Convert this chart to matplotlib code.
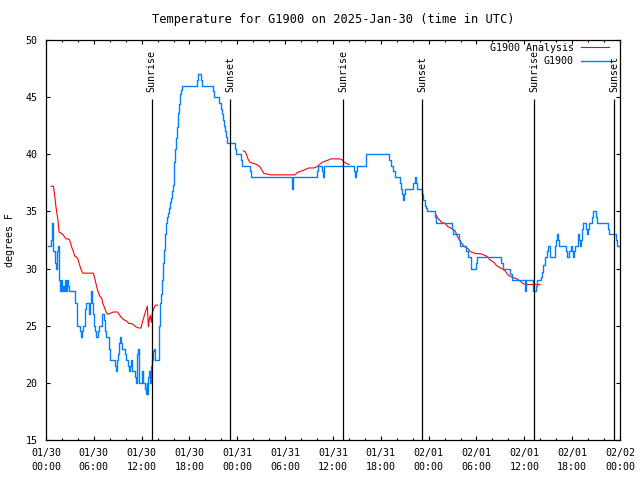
import numpy as np
import pandas as pd
import matplotlib
matplotlib.use('Agg')
import matplotlib.pyplot as plt
import matplotlib.dates as mdates

plt.rcParams['font.family'] = 'DejaVu Sans Mono'
plt.rcParams['font.size'] = 7.2

start = pd.Timestamp('2025-01-30 00:00')
end = pd.Timestamp('2025-02-02 00:00')

# observed temperature (hours since start, deg F), held until next change
obs_hours = [0.25, 0.63, 0.75, 0.79, 0.88, 1.13, 1.25, 1.38, 1.51, 1.63, 1.76, 1.88, 2.01, 2.13, 2.26, 2.43, 2.55, 2.68, 2.80, 2.89,
             3.60, 3.85, 3.95, 4.31, 4.43, 4.56, 4.68, 4.94, 5.02, 5.44, 5.52, 5.65, 5.73, 5.81, 5.94,
             6.02, 6.15, 6.27, 6.57, 6.69, 6.99, 7.07, 7.32, 7.45, 7.53, 7.95, 8.03, 8.66, 8.74, 8.87, 8.95,
             9.08, 9.16, 9.29, 9.37, 9.50, 9.91, 10.00, 10.33, 10.46, 10.54, 10.62, 10.75, 10.79, 11.17, 11.29,
             11.38, 11.46, 11.55, 11.63, 11.71, 12.00, 12.13, 12.22, 12.38, 12.51, 12.63, 12.72, 12.84, 12.97, 13.05,
             13.17, 13.30, 13.38, 13.47, 13.55, 13.63, 13.68, 14.14, 14.22, 14.30, 14.39, 14.51, 14.64, 14.76, 14.89,
             15.01, 15.14, 15.27, 15.39, 15.52, 15.64, 15.77, 15.89, 16.00, 16.10, 16.19, 16.31, 16.44, 16.56, 16.69, 16.81, 16.94, 17.06,
             18.95, 19.03, 19.45, 19.57, 20.90, 21.10, 21.75, 21.92, 22.04, 22.17, 22.29, 22.42, 22.54, 22.67,
             23.71, 23.84, 24.42, 24.59, 25.59, 25.72, 30.82, 30.95, 34.04, 34.17, 34.59, 34.71, 34.88, 38.64, 38.77, 38.90, 38.98, 40.11, 40.19,
             43.08, 43.33, 43.58, 43.79, 44.42, 44.54, 44.67, 44.79, 44.92, 45.05, 46.09, 46.30, 46.45, 46.55,
             47.18, 47.34, 47.55, 47.68, 47.85, 48.85, 48.93, 50.90, 51.03, 51.82, 51.95, 52.70, 52.91, 53.28, 53.37, 53.95, 54.08,
             57.13, 57.38, 58.25, 58.43, 60.14, 60.27, 61.10, 61.48, 61.60, 62.10, 62.27, 62.40, 62.53, 62.65, 62.82, 62.99, 63.16, 63.28,
             63.82, 63.99, 64.12, 64.24, 64.37, 65.20, 65.37, 65.65, 65.83, 65.95, 66.08, 66.20, 66.33, 66.67, 66.79, 66.88, 67.00, 67.13, 67.25, 67.38,
             67.75, 67.88, 68.00, 68.13, 68.50, 68.63, 69.00, 69.13, 70.50, 70.68, 71.45, 71.65, 72.00]
obs_temp = [32, 32.5, 33.5, 34, 31.5, 30.5, 30, 31.5, 32, 29, 28, 29, 28, 28.5, 28, 29, 28, 29, 28.5, 28,
            27, 26, 25, 24.5, 24, 24.5, 25, 26.5, 27, 26, 27, 28, 27.5, 27, 26,
            25, 24.5, 24, 24.5, 25, 25.5, 26, 25.5, 24.5, 24, 23, 22, 21.5, 21, 21.5, 22,
            22.5, 23.5, 24, 23.5, 23, 22.5, 22, 21.5, 21, 21.5, 22, 21.5, 21, 20.5, 20,
            21, 22.5, 23, 21.5, 20, 21, 20.5, 20, 19.5, 19, 20, 19, 20.5, 21, 20,
            21.5, 22, 22.5, 22.8, 23, 22.5, 22, 23, 25, 27, 27.8, 29, 30.5, 31.6, 33,
            34, 34.5, 34.9, 35.3, 35.8, 36.2, 36.8, 37.3, 38.2, 39.3, 40.5, 41.4, 42.4, 43.6, 44.4, 45.3, 45.6, 46,
            46.5, 47, 46.5, 46, 45.5, 45, 44.5, 44, 43.5, 43, 42.5, 42, 41.5, 41,
            40.5, 40, 39.5, 39, 38.5, 38, 37, 38, 38.5, 39, 38.5, 38, 39, 38.5, 38, 38.5, 39, 39.5, 40,
            39.5, 39, 38.5, 38, 37.5, 37, 36.5, 36, 36.5, 37, 37.5, 38, 37.5, 37,
            36.5, 36, 35.5, 35.3, 35, 34.5, 34, 33.5, 33, 32.5, 32, 31.5, 31, 30.5, 30, 30.5, 31,
            30.5, 30, 29.5, 29, 28, 29, 28, 28.5, 29, 29.3, 29.7, 30.3, 30.6, 31, 31.5, 32, 31.5, 31,
            32, 32.5, 33, 32.5, 32, 31.5, 31, 31.5, 32, 31.5, 31, 31.5, 32, 32.5, 33, 32.5, 32, 32.5, 33.5, 34,
            33.5, 33, 33.5, 34, 34.5, 35, 34.5, 34, 33.5, 33, 32.5, 32, 32]

# analysis temperature, nan marks the gaps
ana_hours = [0.63, 0.92, 1.00, 1.13, 1.25, 1.38, 1.51, 1.63, 1.88, 2.09, 2.30, 2.51, 2.76, 2.97, 3.10, 3.26, 3.43, 3.60, 3.85, 4.02,
             4.19, 4.35, 4.60, 5.94, 6.06, 6.23, 6.40, 6.57, 6.73, 6.99, 7.11, 7.28, 7.45, 7.61, 7.82, 8.11, 8.45, 8.78, 8.99,
             9.16, 9.37, 9.62, 9.83, 10.12, 10.37, 10.62, 10.96, 11.29, 11.63, 11.92, 12.05, 12.21, 12.38, 12.55, 12.72,
             12.84, 12.97, 13.09, 13.22, 13.34, 13.47, 13.64, 13.80, 14.01, 14.01,
             24.76, 25.01, 25.18, 25.39, 25.59, 26.01, 26.43, 26.85, 27.10, 27.35, 27.60, 28.10, 31.03, 31.24, 31.53, 31.87,
             32.29, 32.62, 32.92, 33.54, 33.96, 34.30, 34.63, 35.01, 35.43, 35.72, 36.89, 37.18, 37.39, 37.72, 38.02, 38.02,
             48.93, 49.10, 49.27, 49.44, 49.69, 49.94, 50.15, 50.36, 50.61, 50.90, 51.11, 51.32, 51.44, 51.61, 51.78, 51.95,
             52.16, 52.36, 52.57, 52.78, 52.99, 53.20, 53.53, 54.03, 54.45, 54.87, 55.21, 55.42, 55.63, 55.84, 56.05, 56.25,
             56.46, 56.67, 56.88, 57.17, 57.38, 57.59, 57.80, 58.00, 58.30, 58.64, 59.06, 59.27, 59.47, 59.81, 60.10, 60.52,
             61.14, 61.98]
ana_temp = [37.2, 37.2, 36.9, 36.1, 35.4, 34.8, 34.2, 33.2, 33.1, 33.0, 32.8, 32.6, 32.6, 32.5, 32.2, 31.8, 31.5, 31.1, 31.0, 30.8,
            30.4, 30.0, 29.6, 29.6, 29.3, 28.8, 28.3, 27.9, 27.6, 27.4, 27.0, 26.7, 26.4, 26.1, 26.0, 26.1, 26.2, 26.2, 26.2,
            26.0, 25.8, 25.6, 25.5, 25.4, 25.2, 25.2, 25.1, 24.9, 24.8, 24.8, 25.2, 25.6, 26.0, 26.4, 26.7,
            24.9, 25.6, 25.9, 25.3, 26.1, 26.4, 26.7, 26.8, 26.8, np.nan,
            40.3, 40.2, 39.9, 39.5, 39.3, 39.2, 39.1, 38.9, 38.6, 38.3, 38.3, 38.2, 38.2, 38.2, 38.4, 38.5,
            38.6, 38.7, 38.8, 38.8, 38.9, 39.1, 39.3, 39.4, 39.5, 39.6, 39.6, 39.5, 39.3, 39.2, 39.1, np.nan,
            34.7, 34.5, 34.3, 34.2, 34.0, 34.0, 33.9, 33.7, 33.6, 33.5, 33.4, 33.3, 33.1, 32.8, 32.6, 32.4,
            32.2, 32.0, 31.9, 31.8, 31.7, 31.5, 31.4, 31.3, 31.3, 31.2, 31.1, 31.0, 30.8, 30.7, 30.6, 30.5,
            30.3, 30.2, 30.1, 30.0, 29.9, 29.8, 29.6, 29.4, 29.3, 29.2, 29.1, 29.0, 28.9, 28.7, 28.6, 28.6,
            28.6, 28.6]

sun_names = ['Sunrise', 'Sunset', 'Sunrise', 'Sunset', 'Sunrise', 'Sunset']
sun_hours = [13.25, 23.13, 37.31, 47.22, 61.27, 71.30]


def to_time(hours):
    return start + pd.to_timedelta(np.asarray(hours, dtype=float), unit='h')


fig = plt.figure(figsize=(6.4, 4.8), dpi=100)
ax = fig.add_axes([46 / 640, 40 / 480, 574 / 640, 400 / 480])

ax.plot(to_time(ana_hours), ana_temp, color='#ff0000', lw=0.8, label='G1900 Analysis')
ax.plot(to_time(obs_hours), obs_temp, color='#0080ff', lw=1.0, drawstyle='steps-post', label='G1900')

for name, t in zip(sun_names, to_time(sun_hours)):
    ax.vlines(t, 15, 44.8, color='black', lw=0.9, zorder=3)
    ax.text(t, 45.45, name, rotation=90, ha='center', va='bottom', zorder=3)

ax.set_xlim(start, end)
ax.set_ylim(15, 50)
ax.set_yticks(np.arange(15, 51, 5))
ax.xaxis.set_major_locator(mdates.HourLocator(byhour=range(0, 24, 6)))
ax.xaxis.set_minor_locator(mdates.HourLocator(byhour=range(0, 24, 2)))
ax.xaxis.set_major_formatter(mdates.DateFormatter('%m/%d\n%H:%M'))
ax.tick_params(which='both', direction='in', top=True, right=True, width=0.8)
ax.tick_params(which='major', length=3)
ax.tick_params(which='minor', length=1.5)
ax.tick_params(axis='x', pad=6)
ax.tick_params(axis='y', pad=6)
for lab in ax.get_xticklabels():
    lab.set_linespacing(1.45)
for sp in ax.spines.values():
    sp.set_linewidth(0.9)

ax.set_ylabel('degrees F', labelpad=8)
ax.set_title('Temperature for G1900 on 2025-Jan-30 (time in UTC)', pad=12)

ax.legend(loc='upper right', bbox_to_anchor=(1 - 11 / 574, 1 - 3 / 400), frameon=False,
          markerfirst=False, handlelength=2.8, handletextpad=0.7, labelspacing=0.35,
          borderpad=0, borderaxespad=0)

fig.savefig('out.png', dpi=100)
